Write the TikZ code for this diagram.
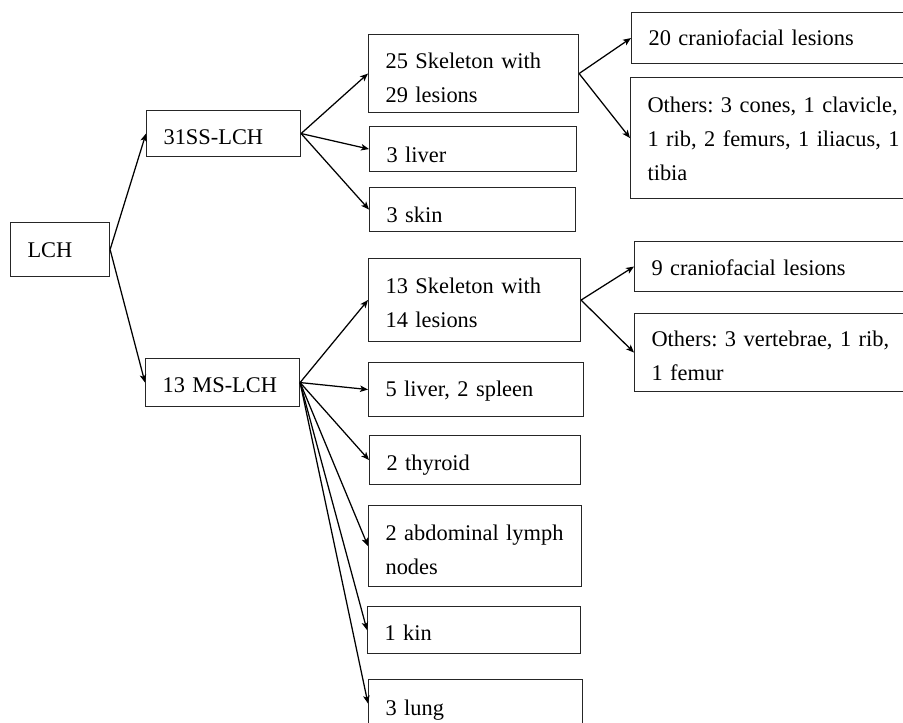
\documentclass[tikz,border=0pt]{standalone}
\usepackage{fontspec}
\setmainfont{Liberation Serif}
\usetikzlibrary{arrows.meta}
\tikzset{
  bx/.style={draw=black!85, line width=1.1pt, anchor=north west, inner xsep=17pt,
    inner ysep=0pt, align=left, text depth=0pt,
    font=\fontsize{22.4}{34}\selectfont\frenchspacing},
  conn/.style={line width=1.25pt, -{Stealth[length=8pt,width=6.5pt,inset=2pt]}}
}
\begin{document}
\begin{tikzpicture}[x=1pt,y=-1pt]
\path[use as bounding box, fill=white] (0,0) rectangle (903,723);
\clip (0,0) rectangle (903,723);
% level 0
\node[bx, minimum height=54pt, text width=65pt, text height=16pt] (lch) at (10,222) {LCH};
% level 1
\node[bx, minimum height=46pt, text width=120pt, text height=22pt] (ss) at (146,110) {31SS-LCH};
\node[bx, minimum height=48pt, text width=120pt, text height=20pt] (ms) at (145,358) {13 MS-LCH};
% level 2 (SS)
\node[bx, minimum height=78pt, text width=176pt, text height=0pt, text depth=10pt] (sk1) at (368,34) {25 Skeleton with\\29 lesions};
\node[bx, minimum height=45pt, text width=173pt, text height=27pt] (liv1) at (369,126) {3 liver};
\node[bx, minimum height=44pt, text width=172pt, text height=26pt] (skin1) at (369,187) {3 skin};
% level 2 (MS)
\node[bx, minimum height=83pt, text width=178pt, text height=0pt, text depth=13pt] (sk2) at (368,258) {13 Skeleton with\\14 lesions};
\node[bx, minimum height=54pt, text width=181pt, text height=14pt] (liv2) at (368,362) {5 liver, 2 spleen};
\node[bx, minimum height=49pt, text width=177pt, text height=21pt] (thy) at (369,435) {2 thyroid};
\node[bx, minimum height=81pt, text width=179pt, text height=0pt, text depth=11pt] (abd) at (368,505) {\mbox{2 abdominal lymph}\\nodes};
\node[bx, minimum height=47pt, text width=179pt, text height=21pt] (kin) at (367,606) {1 kin};
\node[bx, minimum height=48pt, text width=180pt, text height=24pt] (lung) at (368,679) {3 lung};
% level 3
\node[bx, minimum height=51pt, text width=266pt, text height=15pt] (cf1) at (631,12) {20 craniofacial lesions};
\node[bx, minimum height=121pt, text width=266pt, text height=0pt, text depth=51pt] (oth1) at (630,77) {Others: 3 cones, 1 clavicle,\\1 rib, 2 femurs, 1 iliacus, 1\\tibia};
\node[bx, minimum height=50pt, text width=266pt, text height=18pt] (cf2) at (634,241) {9 craniofacial lesions};
\node[bx, minimum height=78pt, text width=266pt, text height=0pt, text depth=12pt] (oth2) at (634,313) {Others: 3 vertebrae, 1 rib,\\1 femur};
% connectors
\draw[conn] (lch.east) -- (ss.west);
\draw[conn] (lch.east) -- (ms.west);
\draw[conn] (ss.east) -- (sk1.west);
\draw[conn] (ss.east) -- (liv1.west);
\draw[conn] (ss.east) -- (skin1.west);
\draw[conn] (sk1.east) -- (cf1.west);
\draw[conn] (sk1.east) -- (oth1.west);
\draw[conn] (ms.east) -- (sk2.west);
\draw[conn] (ms.east) -- (liv2.west);
\draw[conn] (ms.east) -- (thy.west);
\draw[conn] (ms.east) -- (abd.west);
\draw[conn] (ms.east) -- (kin.west);
\draw[conn] (ms.east) -- (lung.west);
\draw[conn] (sk2.east) -- (cf2.west);
\draw[conn] (sk2.east) -- (oth2.west);
\end{tikzpicture}
\end{document}
